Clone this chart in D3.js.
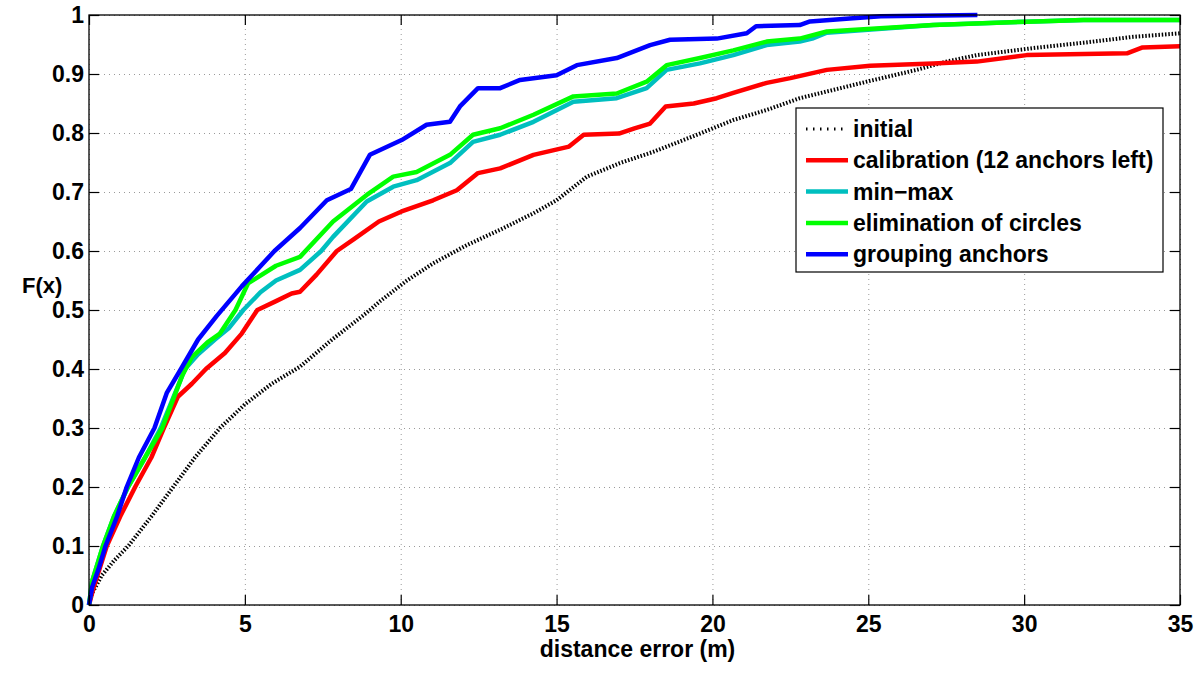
<!DOCTYPE html>
<html>
<head>
<meta charset="utf-8">
<script src="https://d3js.org/d3.v7.min.js"></script>
<style>
    body { margin: 0; background: #fff; }
    text { font-family: "Liberation Sans", Arial, sans-serif; font-weight: bold; fill: #000; }
    .grid line { stroke: #9a9a9a; stroke-width: 1; stroke-dasharray: 1,4; }
    .grid path { display: none; }
    .axis path { display: none; }
    .axis line { stroke: #000; stroke-width: 1.2; }
</style>
</head>
<body>
<script>
//=====================================================================//
//  DATA
//=====================================================================//

    var xTicks = [0, 5, 10, 15, 20, 25, 30, 35];
    var yTicks = [0, 0.1, 0.2, 0.3, 0.4, 0.5, 0.6, 0.7, 0.8, 0.9, 1];

    var seriesNames = ["initial", "calibration (12 anchors left)", "min\u2212max", "elimination of circles", "grouping anchors"];
    var seriesColors = ["#000000", "#ff0000", "#00bfbf", "#00ff00", "#0000ff"];

    // initial
    var initialX = [0, 0.1, 0.41, 0.8, 1.26, 2.0, 2.7, 3.4, 4.2, 5.0, 5.86, 6.77, 7.8, 8.9, 9.34, 10.2, 11.04, 12.12, 13.19, 14.26, 15.0, 15.97, 17.03, 18.1, 19.6, 20.67, 21.74, 22.8, 24.95, 26.55, 27.5, 28.48, 30.3, 31.9, 33.5, 35];
    var initialY = [0, 0.02, 0.05, 0.075, 0.1, 0.15, 0.2, 0.25, 0.3, 0.34, 0.375, 0.404, 0.45, 0.495, 0.515, 0.55, 0.579, 0.61, 0.636, 0.664, 0.686, 0.726, 0.749, 0.768, 0.799, 0.822, 0.839, 0.859, 0.887, 0.907, 0.921, 0.932, 0.944, 0.953, 0.963, 0.969];

    // calibration (12 anchors left)
    var calibX = [0, 0.15, 0.57, 1.0, 1.48, 2.0, 2.4, 2.85, 3.3, 3.75, 4.36, 4.9, 5.4, 6.0, 6.5, 6.77, 7.3, 7.95, 8.5, 9.3, 10.03, 11.04, 11.8, 12.48, 13.19, 14.26, 15.4, 15.87, 17.0, 17.5, 18.0, 18.5, 19.4, 20.14, 20.67, 21.74, 22.5, 23.67, 25.06, 27.08, 28.48, 30.08, 33.3, 33.8, 35];
    var calibY = [0, 0.03, 0.1, 0.15, 0.2, 0.25, 0.3, 0.353, 0.375, 0.4, 0.427, 0.46, 0.5, 0.515, 0.528, 0.531, 0.56, 0.6, 0.62, 0.65, 0.667, 0.686, 0.703, 0.732, 0.74, 0.763, 0.777, 0.797, 0.799, 0.808, 0.816, 0.845, 0.85, 0.859, 0.868, 0.885, 0.893, 0.907, 0.914, 0.918, 0.921, 0.932, 0.935, 0.945, 0.947];

    // min-max
    var minmaxX = [0, 0.1, 0.45, 0.8, 1.25, 1.8, 2.3, 3.08, 3.5, 4.04, 4.5, 4.95, 5.5, 6.0, 6.77, 7.45, 7.83, 8.91, 9.76, 10.51, 11.58, 12.32, 13.19, 14.26, 15.54, 16.93, 17.89, 18.53, 19.6, 20.67, 21.74, 22.8, 23.2, 23.67, 27.08, 30.08, 31.9, 35];
    var minmaxY = [0, 0.04, 0.1, 0.15, 0.2, 0.25, 0.3, 0.4, 0.425, 0.45, 0.47, 0.5, 0.53, 0.55, 0.568, 0.6, 0.624, 0.684, 0.709, 0.72, 0.749, 0.785, 0.797, 0.819, 0.853, 0.859, 0.876, 0.907, 0.918, 0.932, 0.949, 0.955, 0.96, 0.97, 0.983, 0.9887, 0.9915, 0.9915];

    // elimination of circles
    var elimX = [0, 0.1, 0.45, 0.8, 1.25, 1.8, 2.35, 3.0, 3.3, 3.8, 4.2, 4.7, 5.1, 6.0, 6.77, 7.83, 8.91, 9.76, 10.51, 11.58, 12.32, 13.19, 14.26, 15.54, 16.93, 17.89, 18.53, 19.6, 20.67, 21.74, 22.8, 23.67, 27.08, 30.08, 31.9, 35];
    var elimY = [0, 0.04, 0.1, 0.15, 0.2, 0.25, 0.3, 0.39, 0.42, 0.445, 0.46, 0.5, 0.545, 0.575, 0.59, 0.65, 0.695, 0.726, 0.734, 0.763, 0.797, 0.808, 0.831, 0.862, 0.867, 0.887, 0.915, 0.927, 0.94, 0.955, 0.96, 0.972, 0.983, 0.9887, 0.9915, 0.9915];

    // grouping anchors
    var groupX = [0, 0.1, 0.3, 0.53, 0.9, 1.21, 1.6, 2.1, 2.5, 2.95, 3.5, 4.1, 4.9, 5.95, 6.77, 7.63, 8.4, 9.01, 10.03, 10.83, 11.58, 11.9, 12.48, 13.19, 13.83, 15.0, 15.65, 16.93, 18.0, 18.64, 20.14, 21.1, 21.4, 22.8, 23.13, 24.4, 25.4, 28.5];
    var groupY = [0, 0.03, 0.06, 0.1, 0.15, 0.2, 0.25, 0.3, 0.36, 0.4, 0.45, 0.49, 0.54, 0.6, 0.639, 0.686, 0.705, 0.763, 0.788, 0.814, 0.819, 0.845, 0.876, 0.876, 0.89, 0.898, 0.915, 0.927, 0.949, 0.958, 0.96, 0.969, 0.981, 0.983, 0.989, 0.994, 0.998, 1.0];

//=====================================================================//
//  SETUP
//=====================================================================//

    var margin = {left: 89, right: 20, top: 15, bottom: 68},
        width = 1200 - margin.left - margin.right,
        height = 673 - margin.top - margin.bottom;

    var svg = d3.select("body")
        .append("svg")
        .attr("width", 1200)
        .attr("height", 673)
        .append("g")
        .attr("transform", "translate(" + margin.left + "," + margin.top + ")");

    var x = d3.scaleLinear().domain([0, 35]).range([0, width]);
    var y = d3.scaleLinear().domain([0, 1]).range([height, 0]);

    // gridlines
    svg.append("g")
        .attr("class", "grid")
        .attr("transform", "translate(0," + height + ")")
        .call(d3.axisBottom(x).tickValues(xTicks).tickSize(-height).tickFormat(""));
    svg.append("g")
        .attr("class", "grid")
        .call(d3.axisLeft(y).tickValues(yTicks).tickSize(-width).tickFormat(""));

//=====================================================================//
//  CURVES
//=====================================================================//

    var allSeries = [
        {xs: initialX, ys: initialY},
        {xs: calibX, ys: calibY},
        {xs: minmaxX, ys: minmaxY},
        {xs: elimX, ys: elimY},
        {xs: groupX, ys: groupY}
    ];

    svg.append("clipPath").attr("id", "plotclip")
        .append("rect").attr("x", -3).attr("y", -3).attr("width", width + 3).attr("height", height + 3);

    var line = d3.line()
        .x(function(d) { return x(d[0]); })
        .y(function(d) { return y(d[1]); });

    svg.append("g")
        .attr("clip-path", "url(#plotclip)")
        .selectAll("path")
        .data(allSeries)
        .join("path")
            .attr("d", function(d) { return line(d3.zip(d.xs, d.ys)); })
            .attr("fill", "none")
            .attr("stroke", function(d, i) { return seriesColors[i]; })
            .attr("stroke-width", function(d, i) { return i == 0 ? 4 : 4.5; })
            .attr("stroke-dasharray", function(d, i) { return i == 0 ? "1.5,1.8" : null; })
            .attr("stroke-linejoin", "round");

//=====================================================================//
//  AXES + FRAME
//=====================================================================//

    svg.append("rect")
        .attr("width", width).attr("height", height)
        .attr("fill", "none").attr("stroke", "#000").attr("stroke-width", 1.3);

    var xAxis = svg.append("g")
        .attr("class", "axis")
        .attr("transform", "translate(0," + height + ")")
        .call(d3.axisBottom(x).tickValues(xTicks).tickSize(-10).tickPadding(11));
    xAxis.selectAll("text").style("font-size", "23px");

    var yAxis = svg.append("g")
        .attr("class", "axis")
        .call(d3.axisLeft(y).tickValues(yTicks).tickSize(-10).tickPadding(5)
              .tickFormat(function(d) { return d3.format("")(d); }));
    yAxis.selectAll("text").style("font-size", "23px");

    svg.append("g").attr("class", "axis")
        .call(d3.axisTop(x).tickValues(xTicks).tickSize(-10).tickFormat(""));
    svg.append("g").attr("class", "axis")
        .attr("transform", "translate(" + width + ",0)")
        .call(d3.axisRight(y).tickValues(yTicks).tickSize(-10).tickFormat(""));

    // axis labels
    svg.append("text")
        .attr("x", width / 2 + 3)
        .attr("y", height + 52)
        .attr("text-anchor", "middle")
        .style("font-size", "23px")
        .text("distance error (m)");

    svg.append("text")
        .attr("x", 22 - margin.left)
        .attr("y", 293 - margin.top)
        .style("font-size", "22px")
        .text("F(x)");

//=====================================================================//
//  LEGEND
//=====================================================================//

    var legend = svg.append("g")
        .attr("transform", "translate(" + (796 - margin.left) + "," + (108 - margin.top) + ")");

    legend.append("rect")
        .attr("width", 367).attr("height", 164)
        .attr("fill", "#fff").attr("stroke", "#000").attr("stroke-width", 1.2);

    var rows = legend.selectAll("g.row")
        .data(seriesNames)
        .join("g")
            .attr("class", "row")
            .attr("transform", function(d, i) { return "translate(0," + (21 + i * 31.3) + ")"; });

    rows.append("line")
        .attr("x1", 10).attr("x2", 52)
        .attr("stroke", function(d, i) { return seriesColors[i]; })
        .attr("stroke-width", function(d, i) { return i == 0 ? 3.2 : 4.5; })
        .attr("stroke-dasharray", function(d, i) { return i == 0 ? "1.5,5.5" : null; });

    rows.append("text")
        .attr("x", 57)
        .attr("y", 8)
        .style("font-size", "23px")
        .text(function(d) { return d; });
</script>
</body>
</html>
